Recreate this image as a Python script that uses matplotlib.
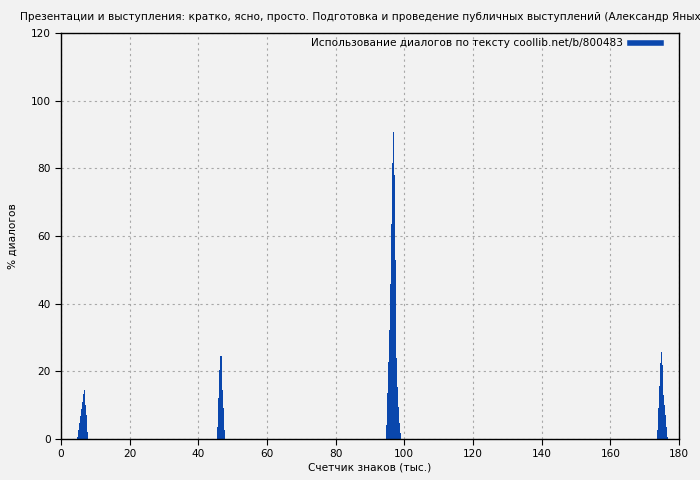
import matplotlib
matplotlib.use("Agg")

import matplotlib.pyplot as plt
from matplotlib.lines import Line2D

title = ("Презентации и выступления: кратко, ясно, просто. Подготовка и проведение "
         "публичных выступлений (Александр Яныхбаш)")
legend_label = "Использование диалогов по тексту coollib.net/b/800483"

# position in thousands of characters, percent of dialogue
pos_1 = [4.7, 5.0, 5.3, 5.6, 5.9, 6.2, 6.5, 6.8, 7.1, 7.4, 7.7]
val_1 = [0.7, 2.7, 4.8, 6.8, 8.9, 10.9, 13.3, 14.5, 10.0, 7.0, 2.2]

pos_2 = [45.7, 46.0, 46.3, 46.6, 46.8, 47.1, 47.4, 47.7]
val_2 = [3.6, 12.0, 20.4, 24.5, 21.4, 14.5, 9.1, 2.7]

pos_3 = [94.7, 95.0, 95.3, 95.6, 95.9, 96.2, 96.5, 96.8, 97.1, 97.4,
         97.7, 98.0, 98.3, 98.6, 98.9]
val_3 = [4.1, 13.5, 22.7, 32.2, 45.7, 63.6, 81.5, 90.8, 78.0, 52.9,
         24.0, 15.5, 9.5, 4.6, 1.8]

pos_4 = [173.6, 173.9, 174.2, 174.5, 174.8, 175.1, 175.4, 175.7, 176.0, 176.3, 176.6]
val_4 = [2.7, 9.3, 15.7, 22.4, 25.8, 21.9, 13.0, 10.0, 7.1, 3.6, 0.7]

bar_color = "#0a47ad"
bg = "#f2f2f2"

fig = plt.figure(figsize=(7, 4.8), dpi=100, facecolor=bg)
ax = fig.add_axes([0.0871, 0.0854, 0.883, 0.846], facecolor=bg)

for p, v in [(pos_1, val_1), (pos_2, val_2), (pos_3, val_3), (pos_4, val_4)]:
    ax.bar(p, v, width=0.31, color=bar_color, linewidth=0, align="center")

ax.set_xlim(0, 180)
ax.set_ylim(0, 120)
ax.set_xticks(range(0, 181, 20))
ax.set_yticks(range(0, 121, 20))
ax.tick_params(labelsize=7.6, length=4, direction="out", color="black")
ax.grid(True, color="#a8a8a8", linestyle=(0, (2, 3)), linewidth=0.8)
ax.set_axisbelow(True)
for s in ax.spines.values():
    s.set_linewidth(1.0)

ax.set_xlabel("Счетчик знаков (тыс.)", fontsize=7.6, labelpad=2)
ax.set_ylabel("% диалогов", fontsize=7.6, labelpad=9)

fig.text(20 / 700, 1 - 17 / 480, title, fontsize=7.6, ha="left", va="center")

handle = Line2D([], [], color=bar_color, linewidth=4)
ax.legend([handle], [legend_label], loc="upper right", frameon=False,
          markerfirst=False, fontsize=7.6, handlelength=3.0,
          borderaxespad=0.0, borderpad=0.5, handletextpad=0.6,
          bbox_to_anchor=(0.98, 1.0))

plt.savefig("out.png", dpi=100, facecolor=bg)
